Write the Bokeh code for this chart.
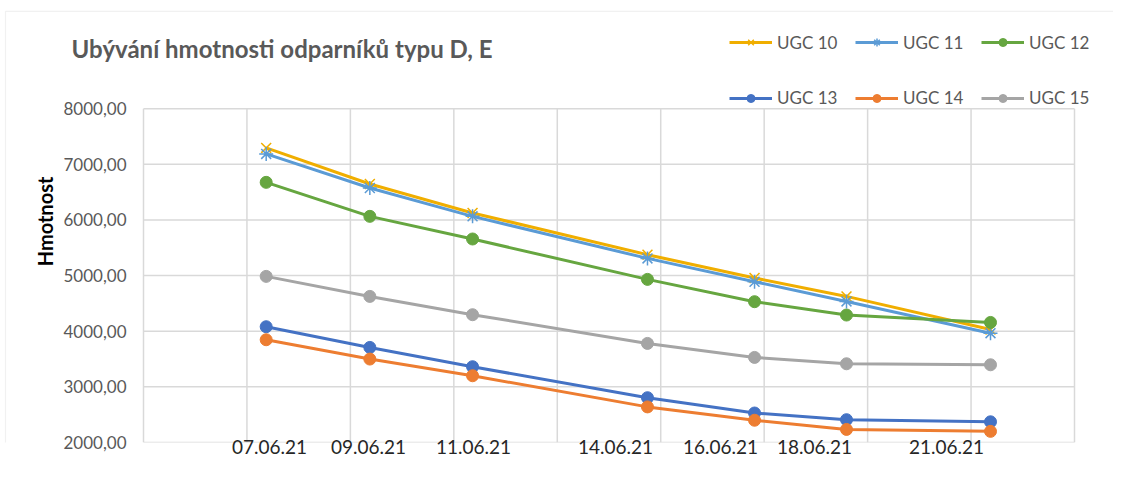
from bokeh.plotting import figure
from bokeh.models import FixedTicker, Legend, LegendItem, Label, Range1d, BoxAnnotation
from bokeh.embed import file_html
from bokeh.resources import INLINE

# ---- data ----
dates = ["07.06.21", "09.06.21", "11.06.21", "14.06.21", "16.06.21", "18.06.21", "21.06.21"]
x_points = [1.186, 2.188, 3.181, 4.872, 5.907, 6.796, 8.188]
tick_pos = [1.218, 2.175, 3.19, 4.563, 5.578, 6.487, 7.763]
x_grid = [0, 1, 2, 3, 4, 5, 6, 7, 8, 9]
y_ticks = [2000, 3000, 4000, 5000, 6000, 7000, 8000]

ugc10 = [7295, 6647, 6126, 5376, 4957, 4626, 4030]
ugc11 = [7187, 6575, 6065, 5309, 4890, 4536, 3965]
ugc12 = [6676, 6065, 5658, 4932, 4531, 4291, 4158]
ugc13 = [4081, 3709, 3362, 2805, 2530, 2410, 2372]
ugc14 = [3847, 3500, 3200, 2640, 2400, 2235, 2200]
ugc15 = [4986, 4626, 4297, 3781, 3529, 3415, 3397]

names = ["UGC 10", "UGC 11", "UGC 12", "UGC 13", "UGC 14", "UGC 15"]
values = [ugc10, ugc11, ugc12, ugc13, ugc14, ugc15]
colors = ["#F0AE00", "#5B9BD5", "#66A640", "#4472C4", "#ED7D31", "#A5A5A5"]
markers = ["x", "asterisk", "circle", "circle", "circle", "circle"]
title_text = "Ubývání hmotnosti odparníků typu D, E"

FONT = "Lato"
W, H = 1113, 461

# ---- layout constants (pixels) ----
FRAME_L, FRAME_T, FRAME_B = 4, 0, 441.2         # drawing frame
AREA_L, AREA_R, AREA_T = 143, 1074, 108         # plot area (x 0..9, y 2000..8000)
px_x = (AREA_R - AREA_L) / (x_grid[-1] - x_grid[0])
px_y = (FRAME_B - AREA_T) / (y_ticks[-1] - y_ticks[0])
x_start = x_grid[0] - (AREA_L - FRAME_L) / px_x
x_end = x_grid[0] + (W - AREA_L) / px_x
y_end = y_ticks[0] + (FRAME_B - FRAME_T) / px_y

p = figure(width=W, height=H, output_backend="svg", toolbar_location=None,
           title_location=None,
           x_range=Range1d(x_start, x_end), y_range=Range1d(y_ticks[0], y_end),
           min_border_left=FRAME_L, min_border_right=0, min_border_top=FRAME_T,
           min_border_bottom=19)
p.background_fill_color = "white"
p.border_fill_color = "white"
p.outline_line_color = None
p.grid.visible = False

# chart border (top and left edges, as in the source)
p.add_layout(BoxAnnotation(left=5 - FRAME_L, right=W + 20, top=FRAME_B - 10, bottom=-40,
                           left_units="screen", right_units="screen",
                           top_units="screen", bottom_units="screen",
                           fill_alpha=0, line_color="#d0d0d0", line_width=1.2))

# plot-area grid (also forms the plot-area border)
GRID = dict(line_color="#d9d9d9", line_width=1.5)
p.segment(x0=x_grid, y0=[y_ticks[0]] * len(x_grid), x1=x_grid, y1=[y_ticks[-1]] * len(x_grid), **GRID)
p.segment(x0=[x_grid[0]] * len(y_ticks), y0=y_ticks, x1=[x_grid[-1]] * len(y_ticks), y1=y_ticks, **GRID)

p.xaxis.ticker = FixedTicker(ticks=tick_pos)
p.xaxis.major_label_overrides = {t: d for t, d in zip(tick_pos, dates)}
p.yaxis.ticker = FixedTicker(ticks=y_ticks)
p.yaxis.major_label_overrides = {t: f"{t},00" for t in y_ticks}
p.yaxis.bounds = (y_ticks[0], y_ticks[-1])

for ax in (p.xaxis, p.yaxis):
    ax.axis_line_color = None
    ax.major_tick_line_color = None
    ax.minor_tick_line_color = None
    ax.major_tick_out = 0
    ax.major_tick_in = 0
    ax.major_label_text_font = FONT

p.yaxis.major_label_text_font_size = "17px"
p.yaxis.major_label_text_color = "#595959"
p.yaxis.major_label_standoff = FRAME_L - 126
p.yaxis.axis_label = "Hmotnost"
p.yaxis.axis_label_text_font = FONT
p.yaxis.axis_label_text_font_size = "20px"
p.yaxis.axis_label_text_font_style = "bold"
p.yaxis.axis_label_text_color = "black"
p.yaxis.axis_label_standoff = 3

p.xaxis.major_label_text_font_size = "19px"
p.xaxis.major_label_text_color = "#262626"
p.xaxis.major_label_standoff = -3

renderers = []
for vals, col, mk in zip(values, colors, markers):
    ln = p.line(x_points, vals, line_color=col, line_width=3)
    if mk == "circle":
        sc = p.scatter(x_points, vals, marker="circle", size=12, fill_color=col, line_color=col)
    else:
        sc = p.scatter(x_points, vals, marker=mk, size=14, line_color=col, line_width=1.5)
    renderers.append([ln, sc])


def make_legend(idx, center_y):
    items = [LegendItem(label=names[i], renderers=renderers[i]) for i in idx]
    return Legend(items=items, orientation="horizontal",
                  location=(729 - FRAME_L, FRAME_B - (center_y + 10)),
                  padding=0, margin=0, spacing=5, glyph_width=43, glyph_height=20,
                  label_width=73, label_height=20, label_standoff=5,
                  border_line_color=None, background_fill_alpha=0,
                  label_text_font=FONT, label_text_font_size="17px",
                  label_text_color="#595959")


p.add_layout(make_legend([0, 1, 2], 41.7))
p.add_layout(make_legend([3, 4, 5], 97.3))

p.add_layout(Label(x=71 - FRAME_L, y=FRAME_B - 47, x_units="screen", y_units="screen",
                   text=title_text, text_font=FONT, text_font_size="24px",
                   text_font_style="bold", text_color="#595959",
                   text_baseline="alphabetic", text_align="left"))

open("out.html", "w").write(file_html(p, INLINE))
